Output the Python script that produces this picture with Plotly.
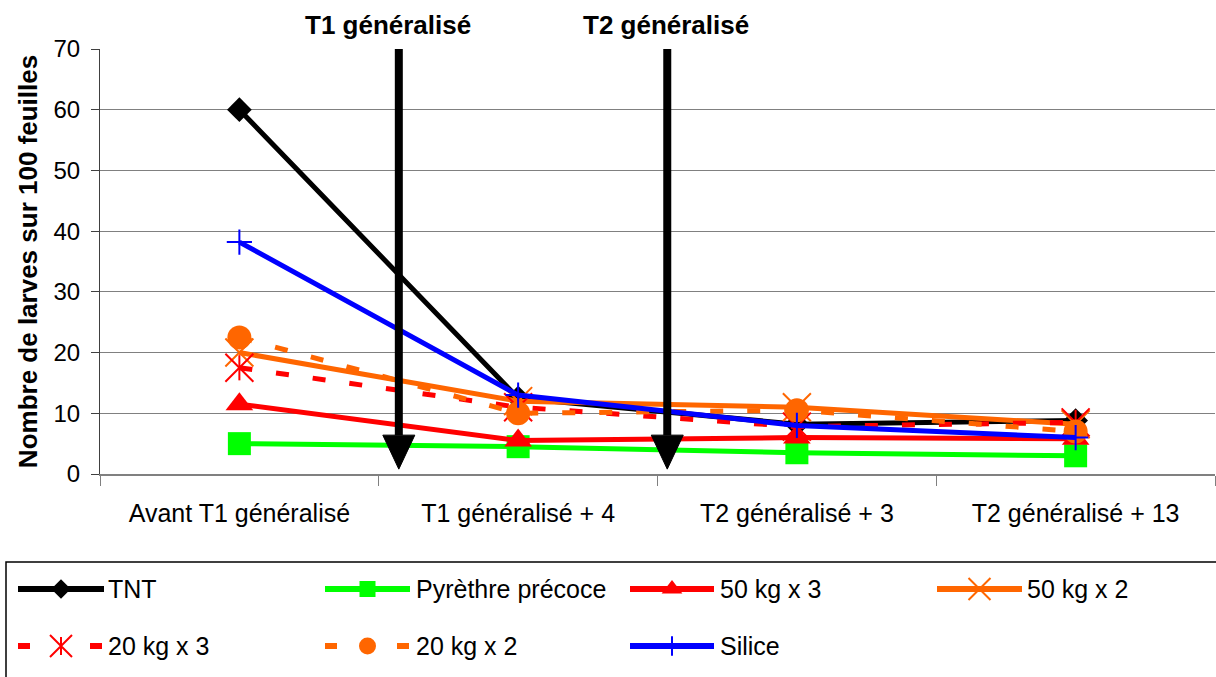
import plotly.graph_objects as go

# ---- data -------------------------------------------------------------
categories = ["Avant T1 généralisé", "T1 généralisé + 4",
              "T2 généralisé + 3", "T2 généralisé + 13"]

tnt = [60, 12.5, 8.2, 8.8]
pyrethre_precoce = [5, 4.5, 3.5, 3]
kg50_x3 = [11.5, 5.5, 6, 5.8]
kg50_x2 = [20, 12, 11, 8.2]
kg20_x3 = [17.5, 11, 7.8, 8.5]
kg20_x2 = [22.5, 10, 10.5, 7]
silice = [38.2, 13, 8, 6]

y_ticks = [0, 10, 20, 30, 40, 50, 60, 70]

# treatment dates, as positions on the category scale
treatment_labels = ["T1 généralisé", "T2 généralisé"]
treatment_pos = [0.572, 1.535]
treatment_label_pos = [0.532, 1.529]

# ---- figure geometry (pixels) ----------------------------------------
W, H = 1216, 677
PLOT_L, PLOT_R, PLOT_T, PLOT_B = 100, 1215, 49, 474
LEG_H = 122

FONT = "Liberation Sans, Arial, sans-serif"
ORANGE = "#FF6600"
RED = "#FF0000"
GREEN = "#00FF00"
BLUE = "#0000FF"
BLACK = "#000000"

xi = list(range(len(categories)))

series = [
    dict(name="TNT", y=tnt, color=BLACK, dash="solid",
         symbol="diamond", size=19, lw=0),
    dict(name="Pyrèthre précoce", y=pyrethre_precoce, color=GREEN, dash="solid",
         symbol="square", size=23, lw=0),
    dict(name="50 kg x 3", y=kg50_x3, color=RED, dash="solid",
         symbol="triangle-up", size=24, lw=0),
    dict(name="50 kg x 2", y=kg50_x2, color=ORANGE, dash="solid",
         symbol="x-thin-open", size=28, lw=2),
    dict(name="20 kg x 3", y=kg20_x3, color=RED, dash="13px,24px",
         symbol="x-thin-open", size=28, lw=2, extra="line-ns-open", extra_size=18),
    dict(name="20 kg x 2", y=kg20_x2, color=ORANGE, dash="13px,24px",
         symbol="circle", size=24, lw=0),
    dict(name="Silice", y=silice, color=BLUE, dash="solid",
         symbol="cross-thin-open", size=18, lw=2),
]

fig = go.Figure()

for s in series:
    fig.add_trace(go.Scatter(
        x=xi, y=s["y"], mode="lines+markers", name=s["name"],
        line=dict(color=s["color"], width=5, dash=s["dash"]),
        marker=dict(symbol=s["symbol"], size=s["size"], color=s["color"],
                    line=dict(color=s["color"], width=s["lw"])),
        showlegend=False, xaxis="x", yaxis="y",
    ))
    if "extra" in s:
        fig.add_trace(go.Scatter(
            x=xi, y=s["y"], mode="markers",
            marker=dict(symbol=s["extra"], size=s["extra_size"], color=s["color"],
                        line=dict(color=s["color"], width=2)),
            showlegend=False, hoverinfo="skip", xaxis="x", yaxis="y",
        ))

# ---- treatment arrows ---------------------------------------------------
head_half = 16 / ((PLOT_R - PLOT_L) / 4)   # half width of arrow head, x units
head_top, head_tip = 6.4, 0.8
for pos, lpos, lab in zip(treatment_pos, treatment_label_pos, treatment_labels):
    fig.add_shape(type="line", xref="x", yref="y", x0=pos, x1=pos,
                  y0=70, y1=head_top, line=dict(color=BLACK, width=8))
    fig.add_shape(type="path", xref="x", yref="y",
                  path=f"M {pos - head_half},{head_top} L {pos + head_half},{head_top} "
                       f"L {pos},{head_tip} Z",
                  fillcolor=BLACK, line=dict(color=BLACK, width=1))
    fig.add_annotation(x=lpos, y=1 - 25 / H, xref="x", yref="paper",
                       text=f"<b>{lab}</b>", showarrow=False,
                       font=dict(size=26, family=FONT, color=BLACK),
                       xanchor="center", yanchor="middle")

# ---- legend block drawn on its own pixel-scaled axes -------------------
legend_rows = [H - 589, H - 646]
legend_items = [
    # (series index, row, line start, line end, text x)
    (0, 0, 18, 104, 106),
    (1, 0, 325, 410, 414),
    (2, 0, 630, 714, 718),
    (3, 0, 937, 1022, 1025),
    (4, 1, 18, 104, 106),
    (5, 1, 325, 410, 414),
    (6, 1, 630, 714, 718),
]
legend_marker = {0: 15, 1: 16, 2: 18, 3: 22, 4: 22, 5: 17, 6: 14}

for idx, row, xa, xb, xt in legend_items:
    s = series[idx]
    yv = legend_rows[row]
    dash = "12px,60px" if s["dash"] != "solid" else "solid"
    fig.add_trace(go.Scatter(
        x=[xa, xb], y=[yv, yv], mode="lines",
        line=dict(color=s["color"], width=6, dash=dash),
        showlegend=False, hoverinfo="skip", xaxis="x2", yaxis="y2",
    ))
    fig.add_trace(go.Scatter(
        x=[(xa + xb) / 2], y=[yv], mode="markers",
        marker=dict(symbol=s["symbol"], size=legend_marker[idx], color=s["color"],
                    line=dict(color=s["color"], width=s["lw"])),
        showlegend=False, hoverinfo="skip", xaxis="x2", yaxis="y2",
    ))
    if "extra" in s:
        fig.add_trace(go.Scatter(
            x=[(xa + xb) / 2], y=[yv], mode="markers",
            marker=dict(symbol=s["extra"], size=13, color=s["color"],
                        line=dict(color=s["color"], width=2)),
            showlegend=False, hoverinfo="skip", xaxis="x2", yaxis="y2",
        ))
    fig.add_annotation(x=xt, y=yv, xref="x2", yref="y2", text=s["name"],
                       showarrow=False, xanchor="left", yanchor="middle",
                       font=dict(size=25, family=FONT, color=BLACK))

# legend frame
fig.add_shape(type="rect", xref="paper", yref="paper",
              x0=6 / W, x1=1.01, y0=-0.02, y1=(H - 562) / H,
              line=dict(color=BLACK, width=1.5), fillcolor="rgba(0,0,0,0)")

fig.update_layout(
    width=W, height=H,
    margin=dict(l=0, r=0, t=0, b=0, pad=0, autoexpand=False),
    paper_bgcolor="white", plot_bgcolor="white",
    font=dict(family=FONT, color=BLACK),
    showlegend=False,
    xaxis=dict(
        domain=[PLOT_L / W, PLOT_R / W],
        range=[-0.5, len(categories) - 0.5],
        tickvals=xi, ticktext=categories,
        ticks="", showgrid=False, zeroline=False,
        showline=True, linecolor="#808080", linewidth=2,
        tickfont=dict(size=25, family=FONT, color=BLACK),
        ticklabelstandoff=16,
        minor=dict(tickvals=[-0.5, 0.5, 1.5, 2.5, 3.5], ticks="outside",
                   ticklen=10, tickcolor="#808080", tickwidth=1, showgrid=False),
        anchor="y", fixedrange=True, automargin=False,
    ),
    yaxis=dict(
        domain=[(H - PLOT_B) / H, (H - PLOT_T) / H],
        range=[0, 70], tickvals=y_ticks,
        ticks="outside", ticklen=8, tickcolor="#404040",
        ticklabelstandoff=6,
        showgrid=True, gridcolor="#808080", gridwidth=1,
        zeroline=False, showline=True, linecolor="#404040", linewidth=1,
        tickfont=dict(size=24, family=FONT, color=BLACK),
        title=dict(text="<b>Nombre de larves sur 100 feuilles</b>",
                   font=dict(size=26, family=FONT, color=BLACK), standoff=8),
        anchor="x", fixedrange=True, automargin=False,
    ),
    xaxis2=dict(domain=[0, 1], range=[0, W], visible=False, fixedrange=True,
                anchor="y2"),
    yaxis2=dict(domain=[0, LEG_H / H], range=[0, LEG_H], visible=False,
                fixedrange=True, anchor="x2"),
)

fig.write_html("out.html")
